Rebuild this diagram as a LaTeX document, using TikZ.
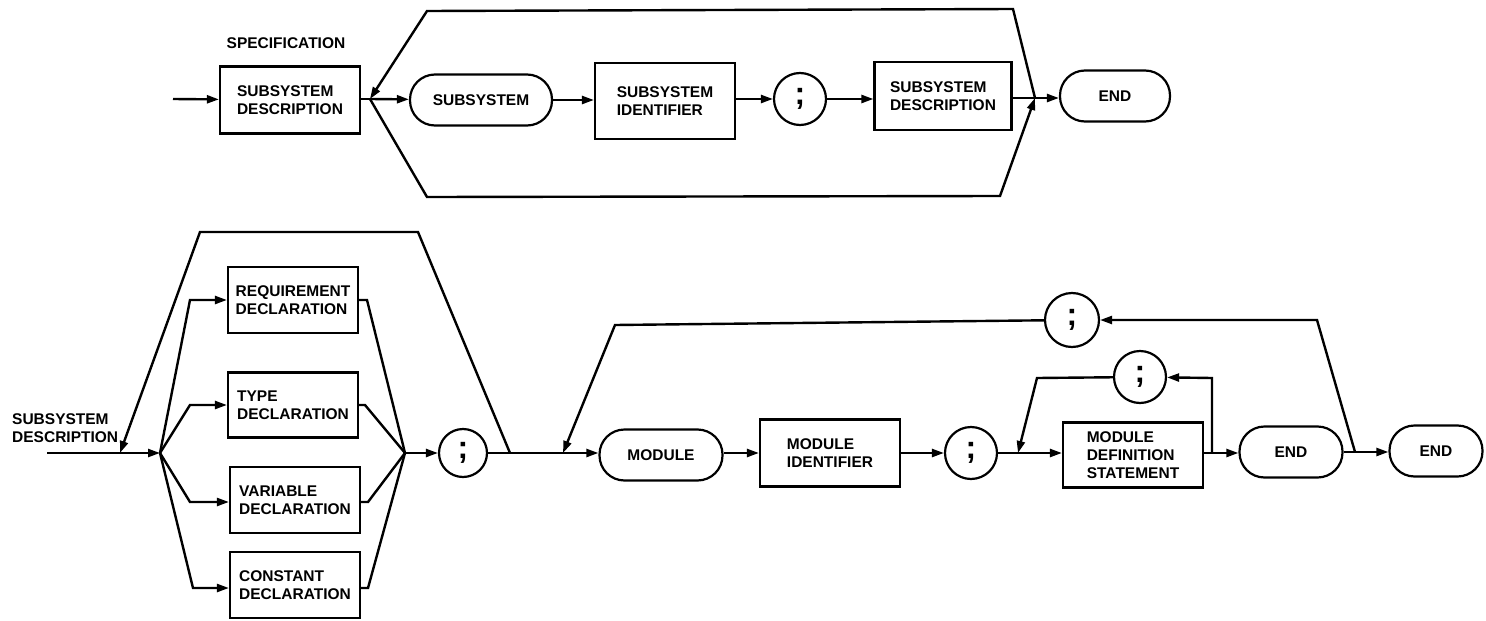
\documentclass[tikz,border=0pt]{standalone}
\usepackage{fontspec}
\setmainfont{Liberation Sans}
\usetikzlibrary{arrows.meta}
\tikzset{
  lbl/.style={font=\bfseries\fontsize{15.5}{18}\selectfont, align=left, inner sep=0pt},
  rbox/.style={draw, line width=2.2pt, minimum width=#1, font=\bfseries\fontsize{15.5}{18}\selectfont, align=left, inner sep=0pt},
  term/.style={draw, line width=2.2pt, rounded corners=25pt, minimum height=51pt, minimum width=#1, font=\bfseries\fontsize{15.5}{18}\selectfont, inner sep=0pt},
  semi/.style={draw, circle, line width=2.2pt, minimum size=#1, inner sep=0pt, font=\bfseries\fontsize{32}{32}\selectfont},
  ln/.style={line width=2.4pt},
  arr/.style={line width=2.4pt, -{Triangle[length=12pt,width=8pt]}},
}
\begin{document}
\begin{tikzpicture}[x=1pt,y=-1pt]
\useasboundingbox (0,0) rectangle (1486,621);
% ---------- top diagram ----------
\node[lbl] (spec) at (286,43) {SPECIFICATION};
\coordinate (tin) at (173,99);
\node[rbox=140pt, minimum height=67pt] (sd1) at (290,100) {SUBSYSTEM\\DESCRIPTION};
\coordinate (tbr) at (370,99);
\node[term=142pt] (subsys) at (481,100) {SUBSYSTEM};
\node[rbox=140pt, minimum height=76pt] (sid) at (665,101) {SUBSYSTEM\\IDENTIFIER};
\node[semi=52pt] (sc1) at (800,99) {;};
\node[rbox=137pt, minimum height=68pt] (sd2) at (943,96) {SUBSYSTEM\\DESCRIPTION};
\coordinate (tmg) at (1035,98);
\node[term=110pt] (end1) at (1115,96) {END};
\coordinate (tu1) at (1013,9);
\coordinate (tu2) at (427,11);
\coordinate (tl1) at (427,197);
\coordinate (tl2) at (1000,196);

\draw[arr] (tin) -- (sd1);
\draw[ln] (sd1.east |- tbr) -- (tbr);
\draw[arr] (tbr) -- (subsys);
\draw[arr] (subsys) -- (sid.west |- subsys);
\draw[arr] (sid.east |- sc1) -- (sc1);
\draw[arr] (sc1) -- (sd2.west |- sc1);
\draw[ln] (sd2.east |- tmg) -- (tmg);
\draw[arr] (tmg) -- (end1.west |- tmg);
\draw[arr] (tmg) -- (tu1) -- (tu2) -- (tbr);
\draw[arr] (tbr) -- (tl1) -- (tl2) -- (tmg);

% ---------- bottom diagram ----------
\node[lbl, anchor=west] (sdl) at (12,428) {SUBSYSTEM\\DESCRIPTION};
\coordinate (bin) at (47,453);
\coordinate (bj1) at (120,453);
\coordinate (bbr) at (160,453);
\node[rbox=130pt, minimum height=66pt] (req) at (293,300) {REQUIREMENT\\DECLARATION};
\node[rbox=130pt, minimum height=65pt] (typ) at (293,405) {TYPE\\DECLARATION};
\node[rbox=130pt, minimum height=66pt] (var) at (295,500) {VARIABLE\\DECLARATION};
\node[rbox=130pt, minimum height=66pt] (con) at (295,585) {CONSTANT\\DECLARATION};
\coordinate (bmg) at (405,453);
\node[semi=48pt] (sc2) at (463,453) {;};
\coordinate (bl1) at (510,453);
\coordinate (bj2) at (563,453);
\node[term=123pt] (mod) at (661,455) {MODULE};
\node[rbox=140pt, minimum height=67pt] (mid) at (830,453) {MODULE\\IDENTIFIER};
\node[semi=52pt] (sc3) at (971,453) {;};
\coordinate (bj3) at (1018,453);
\node[rbox=140pt, minimum height=65pt] (mds) at (1133,455) {MODULE\\DEFINITION\\STATEMENT};
\coordinate (bl3) at (1212,453);
\node[term=103pt] (end2) at (1291,452) {END};
\coordinate (bl2) at (1355,452);
\node[term=93pt] (end3) at (1436,451) {END};
\node[semi=54pt] (sc4) at (1072,320) {;};
\node[semi=52pt] (sc5) at (1140,377) {;};

% loop corner points
\coordinate (l1a) at (418,232);
\coordinate (l1b) at (200,232);
\coordinate (l2a) at (1317,320);
\coordinate (l2b) at (615,325);
\coordinate (l3a) at (1212,378);
\coordinate (l3b) at (1037,378);
\coordinate (rq1) at (190,300);
\coordinate (ty1) at (190,405);
\coordinate (va1) at (190,502);
\coordinate (co1) at (193,588);
\coordinate (rq2) at (367,300);
\coordinate (ty2) at (365,405);
\coordinate (va2) at (368,502);
\coordinate (co2) at (368,588);

\draw[arr] (bin) -- (bbr);
\draw[arr] (bbr) -- (rq1) -- (req.west |- rq1);
\draw[arr] (bbr) -- (ty1) -- (typ.west |- ty1);
\draw[arr] (bbr) -- (va1) -- (var.west |- va1);
\draw[arr] (bbr) -- (co1) -- (con.west |- co1);
\draw[ln] (req.east |- rq2) -- (rq2) -- (bmg);
\draw[ln] (typ.east |- ty2) -- (ty2) -- (bmg);
\draw[ln] (var.east |- va2) -- (va2) -- (bmg);
\draw[ln] (con.east |- co2) -- (co2) -- (bmg);
\draw[arr] (bmg) -- (sc2);
\draw[ln] (sc2) -- (bl1) -- (bj2);
\draw[arr] (bj2) -- (mod.west |- bj2);
\draw[arr] (bl1) -- (l1a) -- (l1b) -- (bj1);
\draw[arr] (mod.east |- mid) -- (mid);
\draw[arr] (mid) -- (sc3);
\draw[ln] (sc3) -- (bj3);
\draw[arr] (bj3) -- (mds.west |- bj3);
\draw[ln] (mds.east |- bl3) -- (bl3);
\draw[arr] (bl3) -- (end2.west |- bl3);
\draw[arr] (bl3) -- (l3a) -- (sc5);
\draw[arr] (sc5) -- (l3b) -- (bj3);
\draw[ln] (end2.east |- bl2) -- (bl2);
\draw[arr] (bl2) -- (end3.west |- bl2);
\draw[arr] (bl2) -- (l2a) -- (sc4);
\draw[arr] (sc4) -- (l2b) -- (bj2);
\end{tikzpicture}
\end{document}
